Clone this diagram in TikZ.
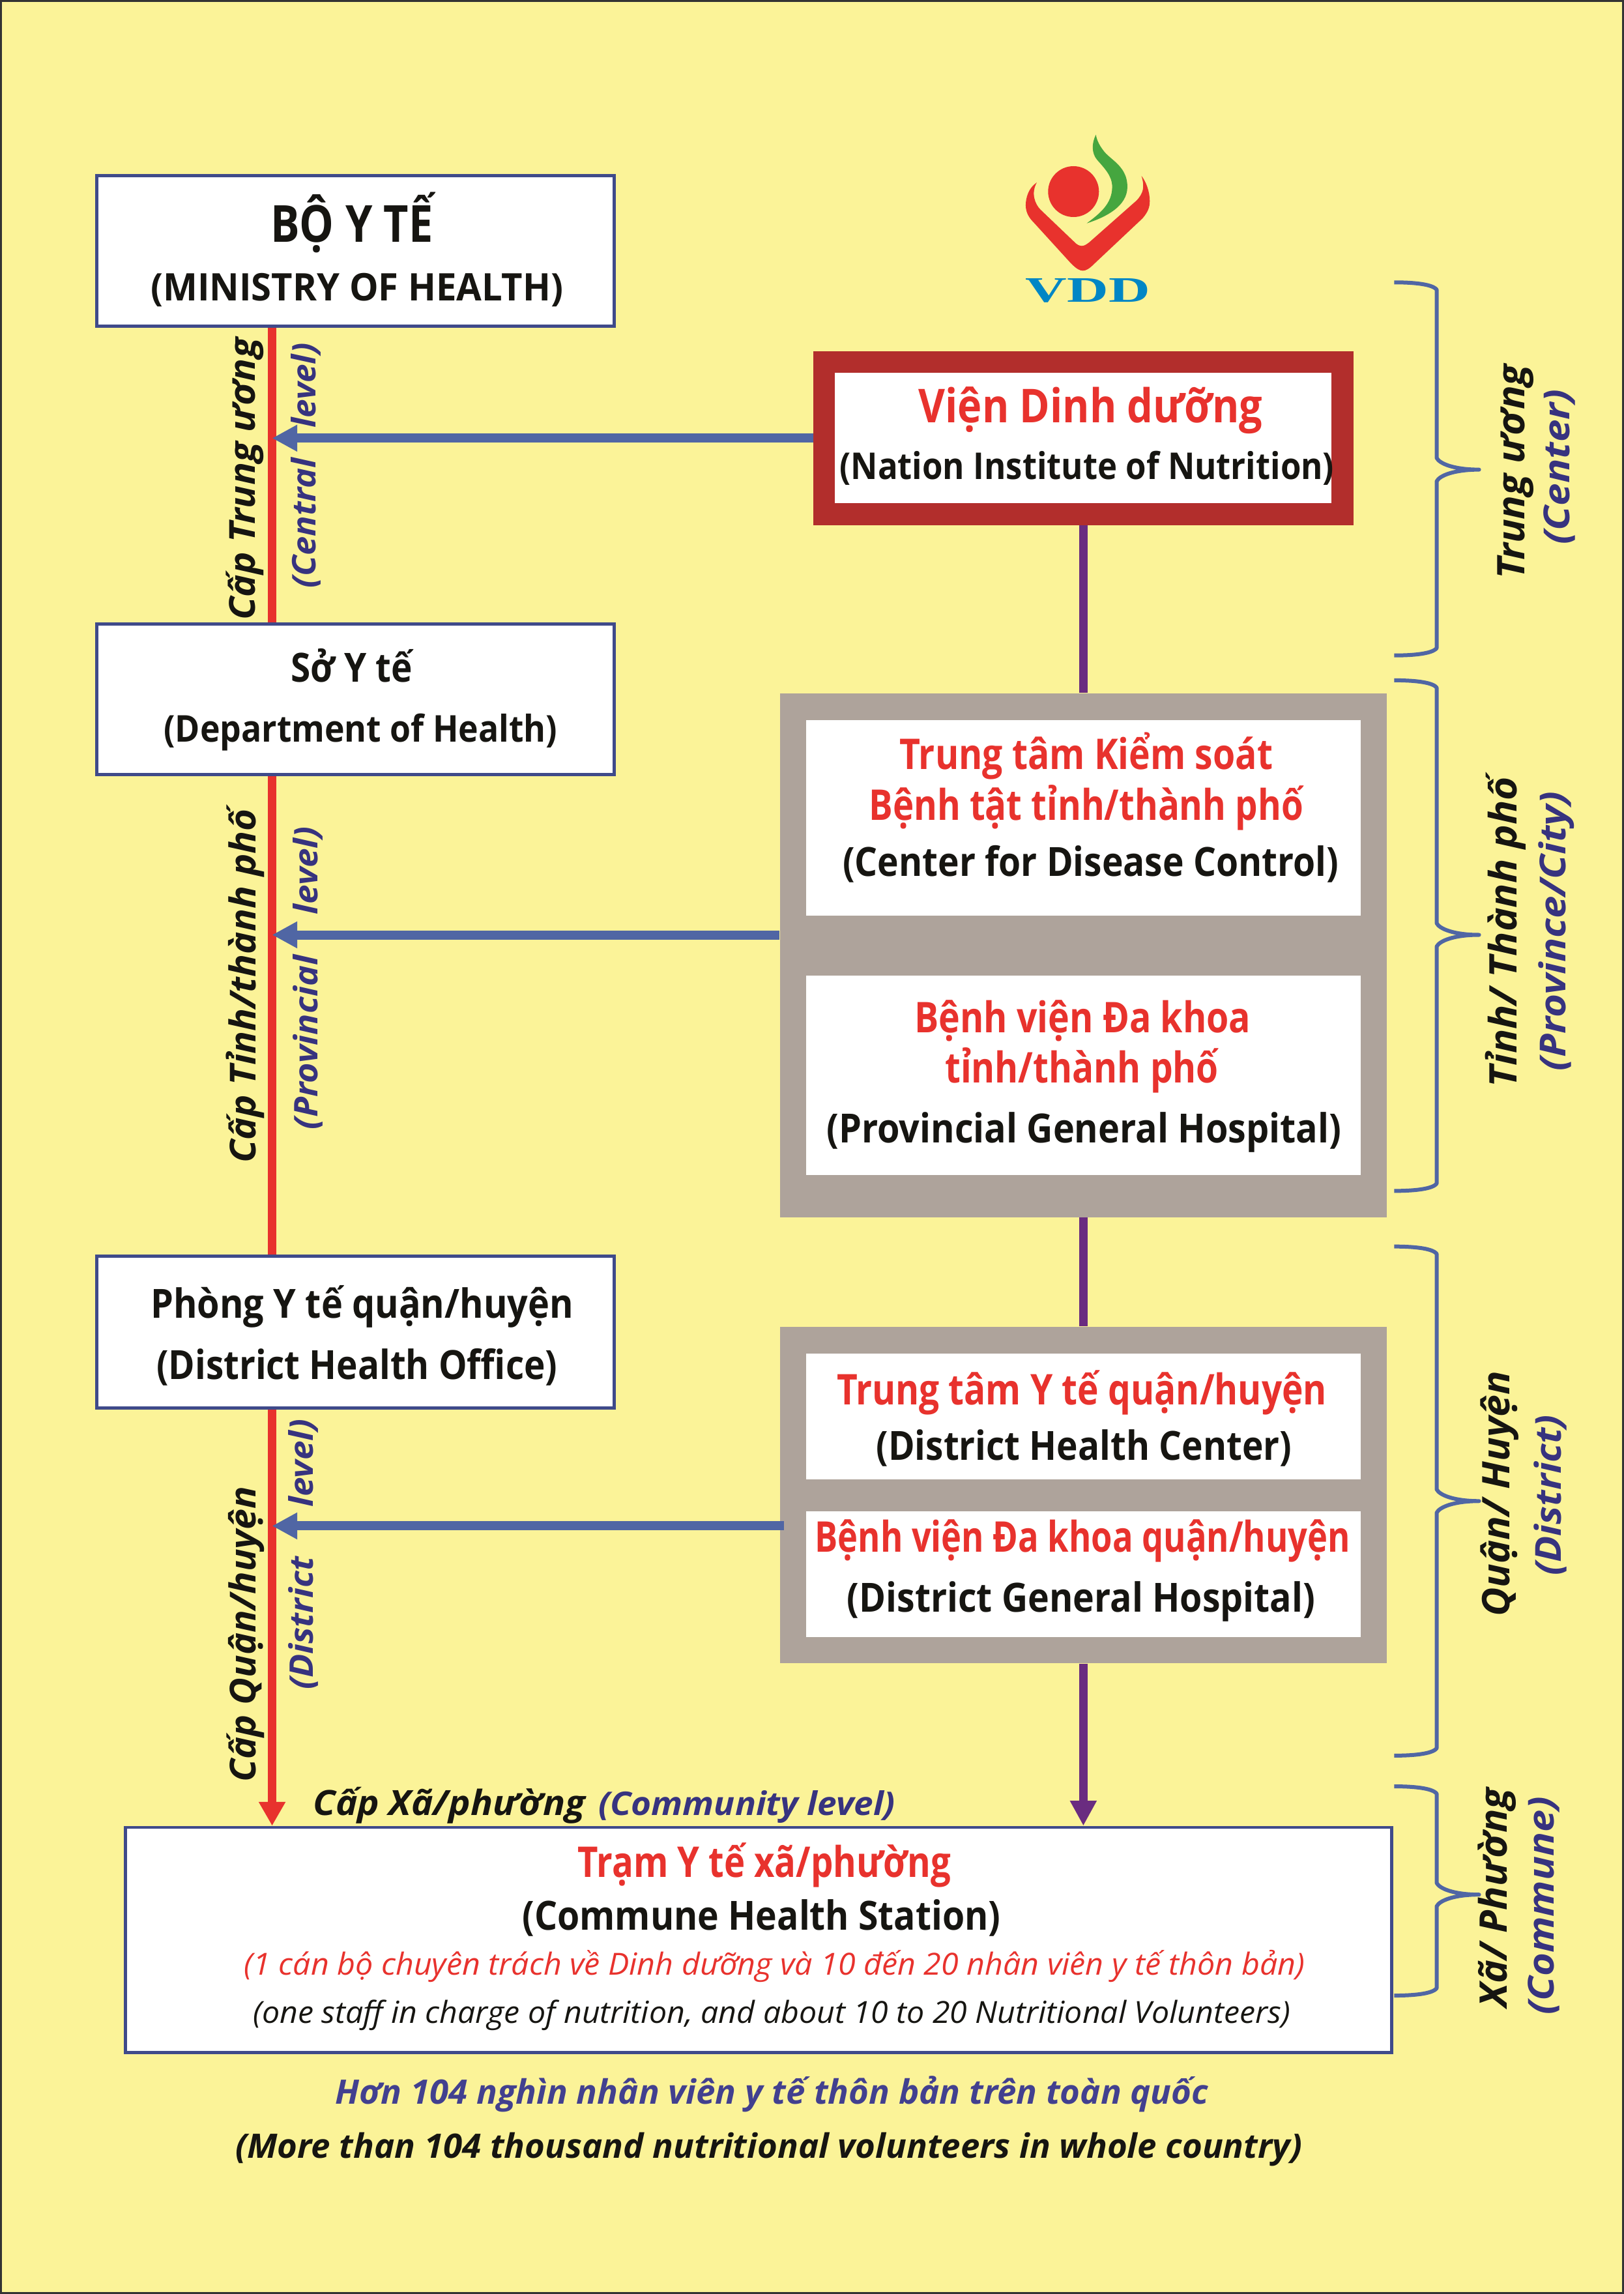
\documentclass[tikz,border=0pt]{standalone}
\usepackage{fontspec}
\usepackage{graphicx}
\setmainfont{Open Sans}
\newfontfamily\vddfont{Liberation Serif}
\usetikzlibrary{arrows.meta,calc}
\newdimen\U \U=0.6735pt
\newcommand\T[3]{\resizebox{#1\U}{\height}{\fontsize{#2}{#2}\selectfont #3}}
\definecolor{bgy}{HTML}{FBF398}
\definecolor{edgeb}{HTML}{3F4A8A}
\definecolor{arrowb}{HTML}{5066A4}
\definecolor{redl}{HTML}{E8322D}
\definecolor{purpl}{HTML}{6A2C80}
\definecolor{brownr}{HTML}{B22E2C}
\definecolor{greyb}{HTML}{AEA39B}
\definecolor{indig}{HTML}{37337F}
\definecolor{indig2}{HTML}{42408F}
\definecolor{nearb}{HTML}{161511}
\definecolor{bracec}{HTML}{5066A4}
\definecolor{greenl}{HTML}{45A63F}
\definecolor{vddb}{HTML}{0086C5}
\tikzset{
 lbl/.style={anchor=base,inner sep=0pt,outer sep=0pt,font=\bfseries,text=nearb},
 redt/.style={lbl,text=redl},
 sidea/.style={anchor=base,inner sep=0pt,outer sep=0pt,rotate=90,font=\bfseries\itshape,text=nearb},
 sideb/.style={sidea,text=indig},
 wbox/.style={draw=edgeb,line width=2.1*0.6735pt,fill=white,inner sep=0pt},
 plain/.style={fill=white,inner sep=0pt},
 panel/.style={fill=greyb,inner sep=0pt},
 redline/.style={draw=redl,line width=3.7pt},
 purline/.style={draw=purpl,line width=3.9pt},
 blueline/.style={draw=arrowb,line width=4.2pt,-{Triangle[length=11.6pt,width=11.6pt]}},
 bracep/.style={draw=bracec,line width=1.8pt,line join=round}
}
\begin{document}
\begin{tikzpicture}[x=0.6735pt,y=-0.6735pt]
\useasboundingbox (0,0) rectangle (1110,1568);
\fill[bgy] (0,0) rectangle (1110,1568);
\draw[black!80,line width=1pt] (0.5,0.5) rectangle (1109.5,1567.5);
\coordinate (rx) at (186,0);
\coordinate (ya) at (0,639);
\coordinate (yb) at (0,1043);
% left boxes
\node[wbox,minimum width=353.5\U,minimum height=103\U] (boy) at (243,171.4) {};
\node[wbox,minimum width=353.5\U,minimum height=103\U] (soyte) at (243,478) {};
\node[wbox,minimum width=353.5\U,minimum height=104\U] (phong) at (243,910.5) {};
\node[wbox,minimum width=865.5\U,minimum height=154\U] (tram) at (518.4,1326) {};
% right panels
\node[draw=brownr,line width=15*0.6735pt,fill=white,inner sep=0pt,minimum width=354.5\U,minimum height=104\U] (vien) at (740.5,299.5) {};
\node[panel,minimum width=415\U,minimum height=358\U] (gone) at (740.5,653) {};
\node[plain,minimum width=379\U,minimum height=134\U] (cdc) at (740.5,559) {};
\node[plain,minimum width=379\U,minimum height=136\U] (bvt) at (740.5,735) {};
\node[panel,minimum width=415\U,minimum height=230\U] (gtwo) at (740.5,1022) {};
\node[plain,minimum width=379\U,minimum height=86\U] (ttyt) at (740.5,968) {};
\node[plain,minimum width=379\U,minimum height=86\U] (bvh) at (740.5,1076) {};
% connectors
\draw[redline] (boy.south -| rx) -- (soyte.north -| rx);
\draw[redline] (soyte.south -| rx) -- (phong.north -| rx);
\draw[redline,-{Triangle[length=11pt,width=11.6pt]}] (phong.south -| rx) -- (tram.north -| rx);
\draw[purline] (vien.south) -- (gone.north);
\draw[purline] (gone.south) -- (gtwo.north);
\draw[purline,-{Triangle[length=11.5pt,width=11.5pt]}] (gtwo.south) -- (gtwo.south |- tram.north);
\draw[blueline] (vien.west) -- (vien.west -| rx);
\draw[blueline] (gone.west |- ya) -- (rx |- ya);
\draw[blueline] ($(gtwo.west |- yb)+(3,0)$) -- (rx |- yb);
% braces
\foreach \ya/\ym/\yb in {193/321/448,465/639/814,852/1026/1200,1221/1295/1364}{
 \draw[bracep] (953,\ya) .. controls (965,\ya) and (979,{\ya+1}) .. (982,{\ya+5}) -- (982,{\ym-8}) .. controls (984,{\ym-4}) and (994,\ym) .. (1011,\ym) .. controls (994,\ym) and (984,{\ym+4}) .. (982,{\ym+8}) -- (982,{\yb-5}) .. controls (979,{\yb-1}) and (965,\yb) .. (953,\yb);
}
% logo
\begin{scope}[shift={(668.15,80.18)},x=0.1pt,y=-0.1pt]
 \fill[redl] (442,342) circle[radius=117];
 \fill[redl] (273,300) .. controls (235,325) and (222,370) .. (222,405) .. controls (222,440) and (240,465) .. (255,480) -- (430,672) .. controls (455,697) and (470,706) .. (485,706) .. controls (500,706) and (515,697) .. (540,672) -- (760,465) .. controls (785,435) and (793,415) .. (793,385) .. controls (793,340) and (775,295) .. (755,270) .. controls (770,320) and (765,350) .. (730,385) -- (515,575) .. controls (500,587) and (490,592) .. (480,592) .. controls (470,592) and (458,587) .. (445,573) -- (290,425) .. controls (265,400) and (245,350) .. (273,300) -- cycle;
 \fill[greenl] (545,80) .. controls (525,120) and (525,165) .. (550,195) .. controls (585,235) and (620,270) .. (620,320) .. controls (620,400) and (560,445) .. (503,488) .. controls (590,460) and (690,410) .. (690,320) .. controls (690,230) and (620,200) .. (585,160) .. controls (565,135) and (550,110) .. (545,80) -- cycle;
 \node[anchor=base,inner sep=0pt,text=vddb,font=\vddfont\bfseries] (vddt) at (508,850) {\T{85}{16.5pt}{VDD}};
\end{scope}
% left box text
\node[lbl] (t1) at (240.5,165.5) {\T{111}{23.5pt}{BỘ Y TẾ}};
\node[lbl] (t2) at (244,205.5) {\T{282}{17.5pt}{(MINISTRY OF HEALTH)}};
\node[lbl] (t3) at (240.5,466) {\T{83}{18.5pt}{Sở Y tế}};
\node[lbl] (t4) at (246.5,507) {\T{269}{17pt}{(Department of Health)}};
\node[lbl] (t5) at (247.5,901) {\T{289}{18.5pt}{Phòng Y tế quận/huyện}};
\node[lbl] (t6) at (244,943) {\T{274}{18.5pt}{(District Health Office)}};
% right text
\node[redt] (t7) at (745.5,289) {\T{235}{21.5pt}{Viện Dinh dưỡng}};
\node[lbl] (t8) at (743,327.5) {\T{338}{17pt}{(Nation Institute of Nutrition)}};
\node[redt] (t9) at (742.5,526) {\T{255}{19.5pt}{Trung tâm Kiểm soát}};
\node[redt] (t10) at (742.5,560.5) {\T{297}{19.5pt}{Bệnh tật tỉnh/thành phố}};
\node[lbl] (t11) at (745.5,599) {\T{339}{18.5pt}{(Center for Disease Control)}};
\node[redt] (t12) at (740,706) {\T{230}{19.5pt}{Bệnh viện Đa khoa}};
\node[redt] (t13) at (739.5,740) {\T{187}{19.5pt}{tỉnh/thành phố}};
\node[lbl] (t14) at (741,781) {\T{352}{18.5pt}{(Provincial General Hospital)}};
\node[redt] (t15) at (739.5,960) {\T{335}{19.5pt}{Trung tâm Y tế quận/huyện}};
\node[lbl] (t16) at (741,998) {\T{284}{18.5pt}{(District Health Center)}};
\node[redt] (t17) at (740,1061) {\T{366}{19.5pt}{Bệnh viện Đa khoa quận/huyện}};
\node[lbl] (t18) at (739,1102) {\T{320}{18.5pt}{(District General Hospital)}};
\node[redt] (t19) at (522.5,1283) {\T{255}{19.5pt}{Trạm Y tế xã/phường}};
\node[lbl] (t20) at (520.5,1319) {\T{327}{18.5pt}{(Commune Health Station)}};
\node[lbl,text=redl,font=\itshape] (t21) at (529.5,1350) {\T{725}{14pt}{(1 cán bộ chuyên trách về Dinh dưỡng và 10 đến 20 nhân viên y tế thôn bản)}};
\node[lbl,font=\itshape] (t22) at (527.5,1383) {\T{709}{14pt}{(one staff in charge of nutrition, and about 10 to 20 Nutritional Volunteers)}};
\node[lbl,text=indig2,font=\bfseries\itshape] (t23) at (527.5,1438) {\T{597}{15.5pt}{Hơn 104 nghìn nhân viên y tế thôn bản trên toàn quốc}};
\node[lbl,font=\bfseries\itshape] (t24) at (525.5,1475) {\T{729}{15.5pt}{(More than 104 thousand nutritional volunteers in whole country)}};
\node[lbl,font=\bfseries\itshape] (t25) at (307,1241) {\T{186}{16pt}{Cấp Xã/phường}};
\node[lbl,text=indig,font=\bfseries\itshape] (t26) at (510.5,1241) {\T{203}{15pt}{(Community level)}};
% left rotated
\node[sidea] (s1) at (174.5,327.5) {\T{193}{16.5pt}{Cấp Trung ương}};
\node[sideb] (s2) at (216,357.5) {\T{89}{15pt}{(Central}};
\node[sideb] (s3) at (216,263.5) {\T{58}{15pt}{level)}};
\node[sidea] (s4) at (175,674) {\T{242}{16.5pt}{Cấp Tỉnh/thành phố}};
\node[sideb] (s5) at (217,712.5) {\T{119}{15pt}{(Provincial}};
\node[sideb] (s6) at (217,595) {\T{60}{15pt}{level)}};
\node[sidea] (s7) at (175,1117) {\T{202}{16.5pt}{Cấp Quận/huyện}};
\node[sideb] (s8) at (214,1109.5) {\T{91}{15pt}{(District}};
\node[sideb] (s9) at (214,1000) {\T{60}{15pt}{level)}};
% right rotated
\node[sidea] (r1) at (1042,322.5) {\T{147}{17.5pt}{Trung ương}};
\node[sideb] (r2) at (1073,319) {\T{106}{16.5pt}{(Center)}};
\node[sidea] (r3) at (1037,637) {\T{212}{17.5pt}{Tỉnh/ Thành phố}};
\node[sideb] (r4) at (1070,636.5) {\T{191}{16.5pt}{(Province/City)}};
\node[sidea] (r5) at (1032,1021) {\T{168}{17.5pt}{Quận/ Huyện}};
\node[sideb] (r6) at (1067,1022) {\T{110}{16.5pt}{(District)}};
\node[sidea] (r7) at (1030,1297) {\T{150}{17.5pt}{Xã/ Phường}};
\node[sideb] (r8) at (1062,1302.5) {\T{149}{16.5pt}{(Commune)}};
\end{tikzpicture}
\end{document}
